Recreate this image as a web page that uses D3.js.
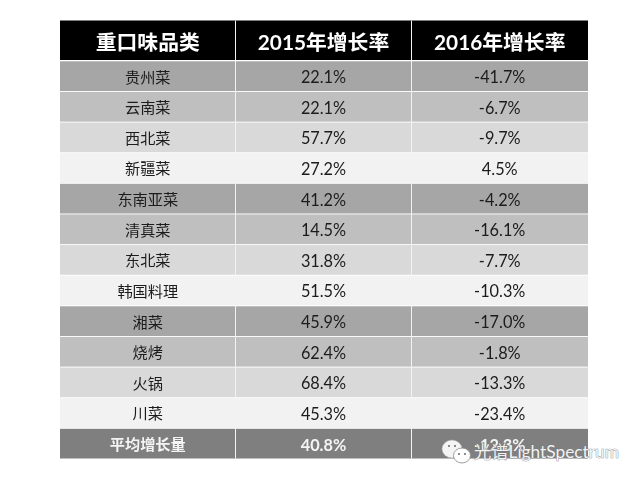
<!DOCTYPE html>
<html>
<head>
<meta charset="utf-8">
<script src="https://cdn.jsdelivr.net/npm/d3@7.9.0/dist/d3.min.js"></script>
<style>
  html, body { margin: 0; padding: 0; background: #fff; }
  text { font-family: Lato, "Noto Sans CJK SC", sans-serif; }
</style>
</head>
<body>
<svg id="chart" width="640" height="482"></svg>
<script>
// Table contents
const headers = ['重口味品类', '2015年增长率', '2016年增长率'];
const categories = ['贵州菜', '云南菜', '西北菜', '新疆菜', '东南亚菜', '清真菜', '东北菜', '韩国料理', '湘菜', '烧烤', '火锅', '川菜', '平均增长量'];
const growth2015 = [22.1, 22.1, 57.7, 27.2, 41.2, 14.5, 31.8, 51.5, 45.9, 62.4, 68.4, 45.3, 40.8];
const growth2016 = [-41.7, -6.7, -9.7, 4.5, -4.2, -16.1, -7.7, -10.3, -17.0, -1.8, -13.3, -23.4, -12.3];
const bandColors = ['#a6a6a6', '#bfbfbf', '#d9d9d9', '#f2f2f2'];
const summaryColor = '#7f7f7f';

const svg = d3.select('#chart');

const colEdges = [60, 235.5, 411.5, 588];
const y = d3.scaleBand()
  .domain(d3.range(categories.length))
  .range([61.3, 458.5])
  .paddingInner(0.03);

const blur = svg.append('defs').append('filter').attr('id', 'soft');
blur.append('feGaussianBlur').attr('stdDeviation', 0.45);

const root = svg.append('g').attr('filter', 'url(#soft)');

// header
root.append('rect')
  .attr('x', colEdges[0]).attr('y', 20.5)
  .attr('width', colEdges[3] - colEdges[0]).attr('height', 39.5)
  .attr('fill', '#000');

root.selectAll('.head')
  .data(headers)
  .join('text')
  .attr('class', 'head')
  .attr('x', (d, i) => (colEdges[i] + colEdges[i + 1]) / 2)
  .attr('y', 42.5)
  .attr('dy', '0.36em')
  .attr('text-anchor', 'middle')
  .attr('font-size', 20.8)
  .attr('font-weight', 700)
  .attr('fill', '#fff')
  .text(d => d);

// row bands
const isLast = i => i === categories.length - 1;

root.selectAll('.band')
  .data(categories)
  .join('rect')
  .attr('class', 'band')
  .attr('x', colEdges[0])
  .attr('y', (d, i) => y(i))
  .attr('width', colEdges[3] - colEdges[0])
  .attr('height', y.bandwidth())
  .attr('fill', (d, i) => isLast(i) ? summaryColor : bandColors[i % 4]);

// cell text
const pct = v => v.toFixed(1) + '%';
const columns = [categories, growth2015.map(pct), growth2016.map(pct)];

columns.forEach((col, c) => {
  root.selectAll('.col' + c)
    .data(col)
    .join('text')
    .attr('class', 'col' + c)
    .attr('x', (colEdges[c] + colEdges[c + 1]) / 2)
    .attr('y', (d, i) => y(i) + y.bandwidth() / 2 + 1)
    .attr('dy', '0.36em')
    .attr('text-anchor', 'middle')
    .attr('font-size', c === 0 ? 15.2 : 16.3)
    .attr('font-weight', (d, i) => isLast(i) ? 700 : 400)
    .attr('fill', (d, i) => isLast(i) ? '#f4f4f4' : '#1c1c1c')
    .text(d => d);
});

// column dividers
root.selectAll('.divider')
  .data(colEdges.slice(1, 3))
  .join('line')
  .attr('class', 'divider')
  .attr('x1', d => d).attr('x2', d => d)
  .attr('y1', 20.5).attr('y2', 458.5)
  .attr('stroke', '#f2f2f2')
  .attr('stroke-width', 1);

// watermark: chat bubbles and account name
const mark = svg.append('g').attr('transform', 'translate(442,439)');
mark.append('ellipse').attr('cx', 10).attr('cy', 10).attr('rx', 10).attr('ry', 9)
  .attr('fill', '#f4f4f4').attr('stroke', '#aaa').attr('stroke-width', 0.5);
mark.append('ellipse').attr('cx', 20).attr('cy', 16.5).attr('rx', 8.5).attr('ry', 7.5)
  .attr('fill', '#fff').attr('stroke', '#888').attr('stroke-width', 0.8);
mark.selectAll('.eye')
  .data([[7, 7], [13, 7], [17, 15], [23, 15]])
  .join('circle')
  .attr('class', 'eye')
  .attr('cx', d => d[0]).attr('cy', d => d[1]).attr('r', 1)
  .attr('fill', '#666');

svg.append('text')
  .attr('x', 474).attr('y', 458)
  .attr('font-size', 17.3)
  .attr('fill', '#f2f2f2')
  .attr('stroke', '#777')
  .attr('stroke-width', 0.7)
  .attr('paint-order', 'stroke')
  .text('光谱LightSpectrum');
</script>
</body>
</html>
